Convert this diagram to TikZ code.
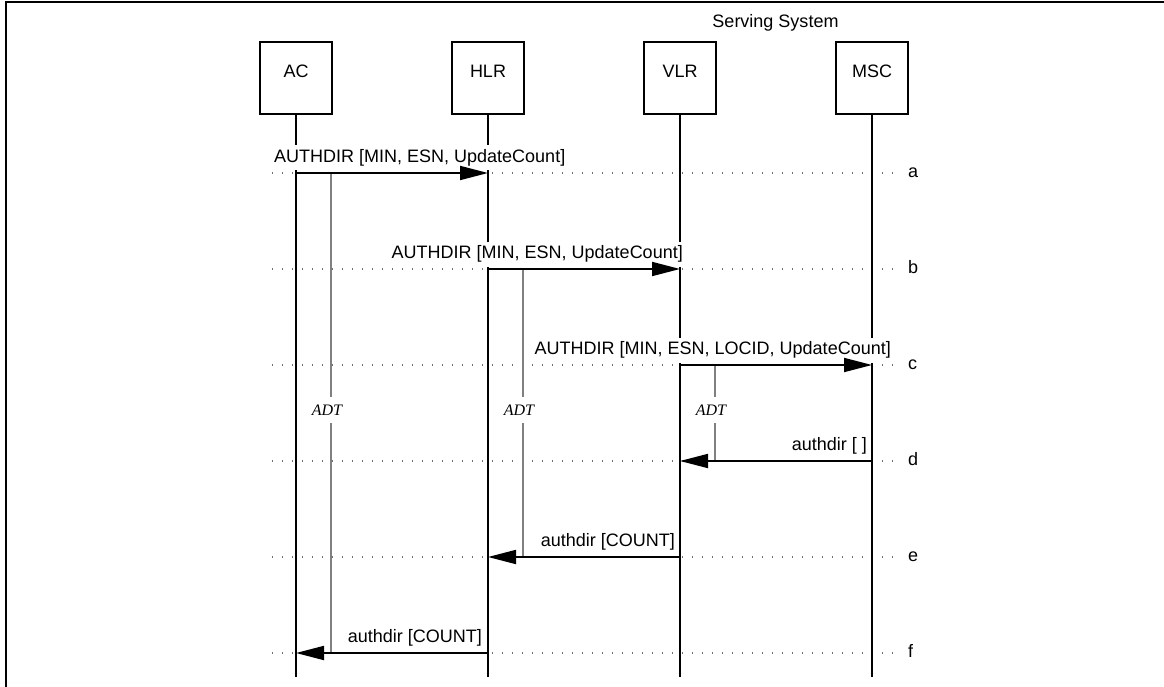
\documentclass[tikz,border=0pt]{standalone}
\usepackage{fontspec}
\setmainfont{Liberation Sans}
\newfontfamily\adtfont{Liberation Serif}
\usetikzlibrary{arrows.meta,calc}
\definecolor{dotgray}{HTML}{707070}
\definecolor{adtgray}{HTML}{808080}
\begin{document}
\begin{tikzpicture}[x=1pt,y=-1pt,
  every node/.style={inner sep=0pt},
  txt/.style={font=\fontsize{18}{20}\selectfont},
  entity/.style={draw, line width=2pt, minimum width=72pt, minimum height=72pt,
    inner sep=0pt, text height=13pt, text depth=13pt, txt},
  lifeline/.style={line width=1.8pt},
  msg/.style={line width=1.8pt, -{Triangle[length=28pt,width=14pt]}},
  guide/.style={dotgray, line width=1.4pt, dash pattern=on 1.4pt off 8.6pt},
  adtline/.style={adtgray, line width=1.6pt},
  adtlabel/.style={font=\adtfont\itshape\fontsize{16}{18}\selectfont,
    text height=10.6pt, text depth=0pt, inner xsep=2pt, inner ysep=7.5pt},
  msgtext/.style={txt, fill=white, inner xsep=1pt, inner ysep=4pt,
    text height=13pt, text depth=4pt},
  msglabel/.style={msgtext, anchor=base east},
  steplabel/.style={txt, anchor=base west},
  frame/.style={line width=2.4pt}
]
\useasboundingbox (0,0) rectangle (1164,687);

% frame
\coordinate (F1) at (6,687);
\coordinate (F2) at (6,2);
\coordinate (F3) at (1164,2);
\draw[frame] (F1) -- (F2) -- (F3);

% heading
\node[txt] (serving) at (775.5,22.5) {Serving System};

% entities
\node[entity] (AC)  at (296,78) {AC};
\node[entity] (HLR) at (488,78) {HLR};
\node[entity] (VLR) at (680,78) {VLR};
\node[entity] (MSC) at (872,78) {MSC};

% message rows
\def\ya{173}\def\yb{269}\def\yc{365}\def\yd{461}\def\ye{557}\def\yf{653}

% dotted guide lines
\foreach \n/\y in {a/\ya,b/\yb,c/\yc,d/\yd,e/\ye,f/\yf}{
  \coordinate (gl\n) at (272,\y);
  \coordinate (gr\n) at (896,\y);
  \draw[guide] (gl\n) -- (gr\n);
  \node[steplabel] (step\n) at (908,\y+4.7) {\n};
}

% lifelines
\coordinate (ACend)  at (296,677);
\coordinate (HLRend) at (488,677);
\coordinate (VLRend) at (680,677);
\coordinate (MSCend) at (872,677);
\draw[lifeline] (AC.south) -- (ACend);
\draw[lifeline] (HLR.south) -- (HLRend);
\draw[lifeline] (VLR.south) -- (VLRend);
\draw[lifeline] (MSC.south) -- (MSCend);

% message end points on lifelines
\coordinate (ACa)  at (AC.south |- gla);
\coordinate (HLRa) at (HLR.south |- gla);
\coordinate (HLRb) at (HLR.south |- glb);
\coordinate (VLRb) at (VLR.south |- glb);
\coordinate (VLRc) at (VLR.south |- glc);
\coordinate (MSCc) at (MSC.south |- glc);
\coordinate (MSCd) at (MSC.south |- gld);
\coordinate (VLRd) at (VLR.south |- gld);
\coordinate (VLRe) at (VLR.south |- gle);
\coordinate (HLRe) at (HLR.south |- gle);
\coordinate (HLRf) at (HLR.south |- glf);
\coordinate (ACf)  at (AC.south |- glf);

% ADT timers
\coordinate (t1top) at (331,\ya);  \coordinate (t1bot) at (331,\yf);
\coordinate (t2top) at (523,\yb);  \coordinate (t2bot) at (523,\ye);
\coordinate (t3top) at (715,\yc);  \coordinate (t3bot) at (715,\yd);
\node[adtlabel] (adt1) at (327,410) {ADT};
\node[adtlabel] (adt2) at (519,410) {ADT};
\node[adtlabel] (adt3) at (711,410) {ADT};
\draw[adtline] (t1top) -- (t1top |- adt1.north);
\draw[adtline] (t1bot |- adt1.south) -- (t1bot);
\draw[adtline] (t2top) -- (t2top |- adt2.north);
\draw[adtline] (t2bot |- adt2.south) -- (t2bot);
\draw[adtline] (t3top) -- (t3top |- adt3.north);
\draw[adtline] (t3bot |- adt3.south) -- (t3bot);

% message labels (opaque, hiding the lifelines behind them)
\node[msgtext, anchor=base west] (ma) at (273,162.5) {AUTHDIR [MIN, ESN, UpdateCount]};
\node[msglabel] (mb) at (684,258.5) {AUTHDIR [MIN, ESN, UpdateCount]};
\node[msglabel] (mc) at (892,354.5) {AUTHDIR [MIN, ESN, LOCID, UpdateCount]};
\node[msglabel] (md) at (868,450.5) {authdir [ ]};
\node[msglabel] (me) at (676,546.5) {authdir [COUNT]};
\node[msglabel] (mf) at (483,642.5) {authdir [COUNT]};

% messages
\draw[msg] (ACa) -- (HLRa);
\draw[msg] (HLRb) -- (VLRb);
\draw[msg] (VLRc) -- (MSCc);
\draw[msg] (MSCd) -- (VLRd);
\draw[msg] (VLRe) -- (HLRe);
\draw[msg] (HLRf) -- (ACf);
\end{tikzpicture}
\end{document}
